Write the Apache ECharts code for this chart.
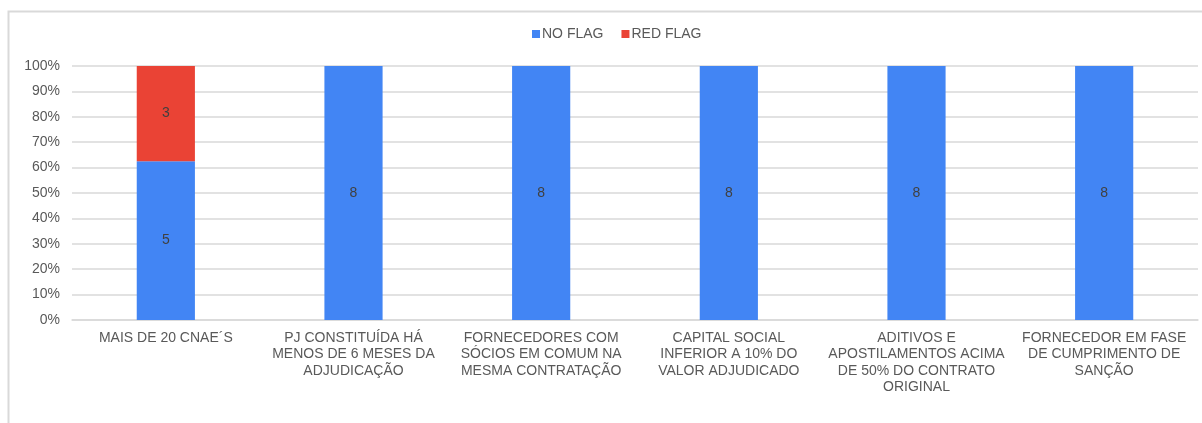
<!DOCTYPE html>
<html>
<head>
<meta charset="utf-8">
<script src="https://cdn.jsdelivr.net/npm/echarts@6/dist/echarts.min.js"></script>
<style>
  html, body { margin: 0; padding: 0; background: #fff; }
  #chart { width: 1202px; height: 423px; }
</style>
</head>
<body>
<div id="chart"></div>
<script>
// categorias (quebras de linha como no original)
const categories = [
    'MAIS DE 20 CNAE´S',
    'PJ CONSTITUÍDA HÁ\nMENOS DE 6 MESES DA\nADJUDICAÇÃO',
    'FORNECEDORES COM\nSÓCIOS EM COMUM NA\nMESMA CONTRATAÇÃO',
    'CAPITAL SOCIAL\nINFERIOR A 10% DO\nVALOR ADJUDICADO',
    'ADITIVOS E\nAPOSTILAMENTOS ACIMA\nDE 50% DO CONTRATO\nORIGINAL',
    'FORNECEDOR EM FASE\nDE CUMPRIMENTO DE\nSANÇÃO'
];
const noFlag = [5, 8, 8, 8, 8, 8];
const redFlag = [3, 0, 0, 0, 0, 0];
const yTicks = [0, 100, 10]; // min, max, intervalo

const totals = noFlag.map((v, i) => v + redFlag[i]);
const pct = (arr) => arr.map((v, i) => ({ value: v / totals[i] * 100, count: v }));

const chart = echarts.init(document.getElementById('chart'));

const labelCfg = {
    show: true,
    position: 'inside',
    color: '#404040',
    fontSize: 14,
    fontFamily: 'Liberation Sans',
    formatter: (p) => p.data.count > 0 ? p.data.count : ''
};

chart.setOption({
    animation: false,
    textStyle: { fontFamily: 'Liberation Sans' },
    // moldura cinza (topo e esquerda)
    graphic: [{
        type: 'polyline',
        shape: { points: [[8.5, 423], [8.5, 11.5], [1202, 11.5]] },
        style: { stroke: '#d9d9d9', lineWidth: 2, fill: null }
    }],
    legend: {
        top: 22,
        left: 527,
        itemWidth: 8,
        itemHeight: 8,
        itemGap: 18,
        icon: 'rect',
        textStyle: { color: '#595959', fontSize: 14, padding: [0, 0, 0, -3] },
        data: ['NO FLAG', 'RED FLAG']
    },
    grid: { left: 72, right: 4, top: 66, bottom: 103 },
    xAxis: {
        type: 'category',
        data: categories,
        axisTick: { show: false },
        axisLine: { lineStyle: { color: '#d9d9d9', width: 1.5 } },
        axisLabel: {
            color: '#595959',
            fontSize: 14,
            lineHeight: 16.4,
            margin: 10,
            interval: 0
        }
    },
    yAxis: {
        type: 'value',
        min: yTicks[0],
        max: yTicks[1],
        interval: yTicks[2],
        axisLabel: { formatter: '{value}%', color: '#595959', fontSize: 14, margin: 12 },
        splitLine: { lineStyle: { color: '#d9d9d9', width: 1.5 } },
        axisLine: { show: false },
        axisTick: { show: false }
    },
    series: [
        {
            name: 'NO FLAG',
            type: 'bar',
            stack: 'total',
            barWidth: '31%',
            itemStyle: { color: '#4285F4' },
            label: labelCfg,
            data: pct(noFlag)
        },
        {
            name: 'RED FLAG',
            type: 'bar',
            stack: 'total',
            barWidth: '31%',
            itemStyle: { color: '#EA4335' },
            label: labelCfg,
            data: pct(redFlag)
        }
    ]
});
</script>
</body>
</html>
